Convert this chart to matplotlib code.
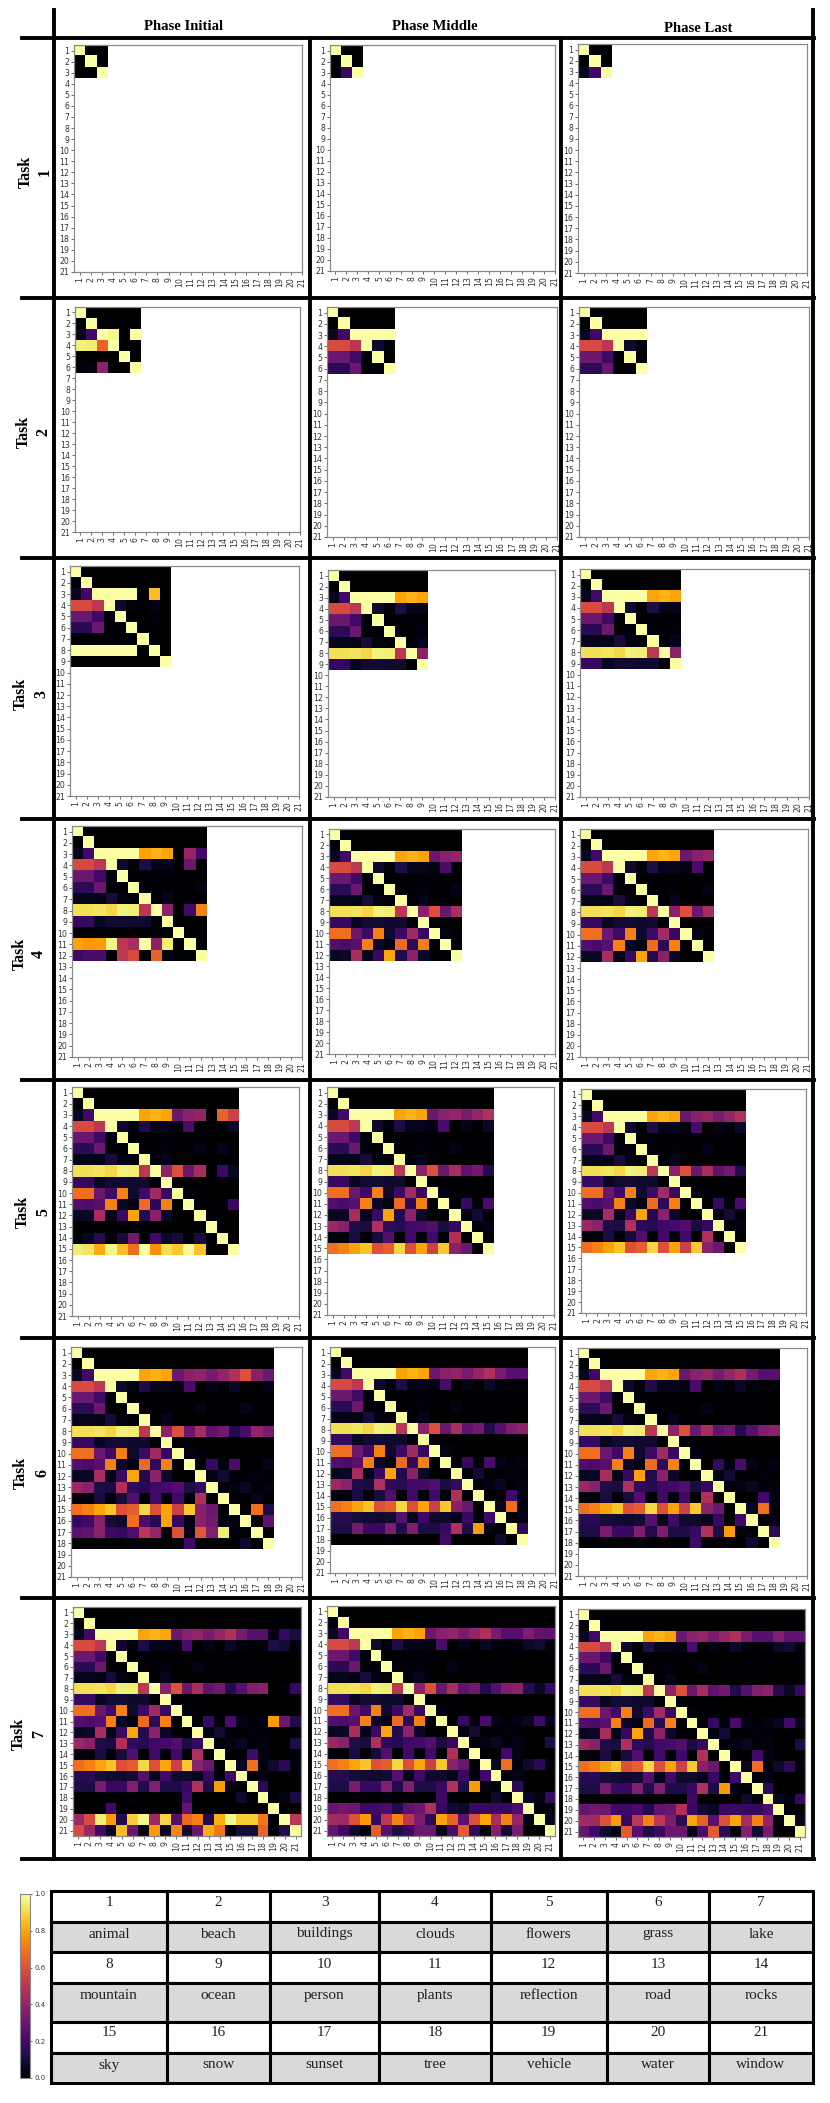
import numpy as np
import matplotlib
matplotlib.use("Agg")
import matplotlib.pyplot as plt
from matplotlib.patches import Rectangle

W, H = 830, 2103

phases = ["Phase Initial", "Phase Middle", "Phase Last"]
tasks = [1, 2, 3, 4, 5, 6, 7]
class_count = [3, 6, 9, 12, 15, 18, 21]
labels = ["animal", "beach", "buildings", "clouds", "flowers", "grass", "lake",
          "mountain", "ocean", "person", "plants", "reflection", "road", "rocks",
          "sky", "snow", "sunset", "tree", "vehicle", "water", "window"]

row_1 = [1] + [0] * 20
row_2 = [0, 1] + [0] * 19
row_3 = [.06, .2, 1, 1, 1, 1, .8, .83, .8, .3, .37, .4, .33, .4, .47, .33, .25, .25, .35, .27, .27]
row_4 = [.58, .58, .5, 1, .08, .02, .12, .05, .05, .03, .22, 0, .04, .01, .07, .02, .01, .02, .07, .09, .02]
row_5 = [.3, .3, .2, .02, 1, 0, .01, .01, .01, .01, 0, 0, 0, 0, 0, 0, 0, 0, 0, 0, .01]
row_6 = [.15, .15, .3, .01, .01, 1, .01, .01, .02, 0, 0, .04, 0, .01, 0, .01, .01, 0, 0, 0, 0]
row_7 = [.05, .05, .04, .1, .03, .01, 1, .01, .05, 0, 0, 0, 0, 0, 0, 0, 0, 0, 0, 0, 0]
row_8 = [.92, .92, .93, .9, .96, .95, .5, 1, .38, .6, .3, .45, .27, .32, .13, .25, .35, .38, .14, .07, .17]
row_9 = [.17, .17, .06, .09, .09, .08, .08, .01, 1, 0, 0, 0, 0, 0, 0, 0, 0, 0, 0, 0, 0]
row_10 = [.68, .68, .3, .2, .72, .08, .19, .43, .18, 1, .03, .01, 0, 0, 0, 0, 0, 0, 0, 0, 0]
row_11 = [.24, .22, .25, .72, .07, .03, .67, .15, .72, 0, 1, 0, .17, .02, .22, .04, .01, .03, .06, .2, .05]
row_12 = [.06, .07, .45, .05, .18, .8, .13, .38, .07, 0, 0, 1, .03, .09, .01, .01, .02, .01, 0, 0, 0]
row_13 = [.42, .37, .12, .11, .47, .16, .14, .2, .21, .24, .11, .17, 1, .01, .03, .06, .01, .03, 0, 0, .12]
row_14 = [.02, .02, .11, .01, .1, .24, 0, .2, .02, .2, .01, .47, 0, 1, 0, 0, .2, .03, 0, 0, 0]
row_15 = [.68, .72, .8, .86, .6, .64, .9, .6, .8, .55, .87, .37, .3, 0, 1, .06, .68, .02, .08, .15, .02]
row_16 = [.14, .14, .1, .09, .08, .09, .25, .05, .2, .08, .08, .05, .18, .01, .2, 1, 0, .04, 0, 0, 0]
row_17 = [.12, .12, .33, .18, .18, .35, .13, .35, .12, .12, .18, .47, .12, .78, .03, .01, 1, .15, 0, 0, 0]
row_18 = [0, 0, 0, 0, 0, .02, 0, 0, 0, 0, .2, .01, 0, 0, 0, .08, 0, 1, .06, .03, .17]
row_19 = [.28, .32, .3, .2, .2, .22, .13, .27, .3, .47, .18, .09, .07, .18, .18, .18, .17, .23, 1, .01, .01]
row_20 = [.43, .43, .6, .78, .17, .5, .72, .5, .34, .15, .8, .65, .26, .6, .8, .45, .72, .4, .03, 1, .05]
row_21 = [.28, .2, .08, .03, .63, .25, .12, .18, .3, .3, .05, .22, .63, .15, .01, .36, .09, .33, 0, 0, 1]

base = np.array([row_1, row_2, row_3, row_4, row_5, row_6, row_7, row_8, row_9, row_10, row_11,
                 row_12, row_13, row_14, row_15, row_16, row_17, row_18, row_19, row_20, row_21], dtype=float)

# (row, first column, values), 1 based like the tick labels
changes = {
    (1, 0): [(3, 1, [0, 0])],
    (1, 1): [(3, 1, [.02, .17])],
    (2, 0): [(3, 1, [.06, .2, 1, .97, 0, 1]),
             (4, 1, [.96, .95, .65, 1, 0, 0]),
             (5, 1, [0, 0, 0, 0, 1, 0]),
             (6, 1, [.02, .03, .38, 0, 0, 1])],
    (3, 0): [(3, 7, [0, .85, 0]),
             (4, 7, [0, .03, 0]),
             (5, 7, [0, .02, 0]),
             (6, 7, [0, .01, 0]),
             (7, 1, [0, 0, 0, 0, 0, 0, 1, 0, 0]),
             (8, 1, [1, 1, 1, 1, 1, 1, 0, 1, 0]),
             (9, 1, [0, 0, 0, 0, 0, 0, 0, 0, 1])],
    (4, 0): [(3, 10, [0, .4, .2]),
             (4, 10, [0, .3, 0]),
             (6, 12, [.03]),
             (8, 10, [0, .2, .72]),
             (10, 1, [0, 0, 0, 0, 0, 0, 0, 0, 0, 1, 0, 0]),
             (11, 1, [.8, .77, .78, .97, .5, .45, 1, .38, .95, 0, 1, 0]),
             (12, 1, [.2, .22, .22, 0, .5, .58, 0, .65, .03, 0, 0, 1])],
    (5, 0): [(3, 13, [0, .65, .55]),
             (4, 13, [0, .01, .07]),
             (6, 13, [0, .05, 0]),
             (8, 13, [0, .18, .06]),
             (11, 13, [0, .01, .18]),
             (12, 13, [.01, 0, 0]),
             (13, 1, [0, 0, 0, 0, 0, 0, 0, 0, 0, 0, 0, 0, 1, 0, 0]),
             (14, 1, [.03, .06, .14, .02, .1, .32, 0, .2, .07, .1, .01, .11, 0, 1, 0]),
             (15, 1, [.95, .93, .82, .97, .85, .68, 1, .75, .92, .87, .99, .86, 0, 0, 1])],
    (6, 0): [(3, 16, [.6, .37, .3]),
             (4, 16, [0, 0, .04]),
             (6, 16, [.05]),
             (8, 16, [.22, .4, .33]),
             (11, 16, [0, 0, .05]),
             (14, 16, [0, .05, 0]),
             (15, 16, [0, .68, .12]),
             (16, 1, [.17, .2, .37, .1, .08, .68, .22, .14, .8, .17, .03, .38, .32, .03, .03, 1, 0, .27]),
             (17, 1, [.25, .27, .37, .2, .17, .23, .5, .4, .02, .6, .05, .62, .35, .95, .02, 0, 1, 0])],
    (7, 0): [(3, 19, [.03, .17, .11]),
             (4, 19, [.12, .09, .02]),
             (8, 19, [0, .02, .17]),
             (11, 19, [.78, .3, .12]),
             (18, 19, [0, .03, .11]),
             (19, 1, [0, 0, 0, .2, 0, 0, 0, 0, 0, 0, .28, 0, 0, 0, 0, 0, 0, 0, 1, 0, 0]),
             (20, 1, [.42, .58, .95, .78, .13, .88, .97, .42, .9, .25, .66, .72, .13, .82, .98, .88, .88, .7, 0, 1, .5]),
             (21, 1, [.58, .42, .2, .06, .85, .3, 0, .78, .06, .73, .08, .3, .82, .7, 0, .1, .1, .65, 0, .13, 1])],
}

# panel boxes in pixels: left, right, top, bottom
boxes = [
    [(74, 302, 45, 272), (330, 555, 45, 271), (578, 807, 44, 273)],
    [(75, 300, 307, 532), (327, 557, 307, 537), (579, 809, 307, 537)],
    [(70, 299, 566, 796), (328, 555, 570, 797), (580, 809, 569, 797)],
    [(72, 302, 826, 1057), (329, 555, 829, 1054), (580, 808, 829, 1057)],
    [(72, 299, 1087, 1316), (327, 554, 1087, 1315), (581, 806, 1089, 1313)],
    [(71, 302, 1347, 1577), (330, 555, 1347, 1573), (578, 807, 1348, 1576)],
    [(73, 301, 1607, 1836), (327, 555, 1606, 1836), (578, 805, 1609, 1837)],
]

vlines = [53.5, 310, 561, 813]
hlines = [37.5, 297.5, 558, 819, 1080, 1338, 1598, 1859]
header_pos = [(184, 26), (435, 26), (698, 28)]
task_pos = [(26, 45, 172), (24, 43, 432), (21, 41, 694), (19.5, 39, 954), (23, 43, 1212), (21, 42, 1473), (19, 39, 1734)]

table_x = [51.3, 166.7, 269.8, 379.4, 490.5, 606.9, 709, 813]
table_y = [1891, 1921.7, 1952, 1982.7, 2022.3, 2052.7, 2082.7]
text_y = [1903, 1934, 1965, 1995.5, 2033, 2065]

fig = plt.figure(figsize=(W / 100, H / 100), dpi=100)


def add_box(l, r, t, b):
    return fig.add_axes([l / W, 1 - b / H, (r - l) / W, (b - t) / H])


ticks = np.arange(21)
tick_text = [str(i + 1) for i in ticks]
im = None
for i, n in enumerate(class_count):
    for j in range(3):
        m = base[:n, :n].copy()
        for row, col, vals in changes.get((tasks[i], j), []):
            m[row - 1, col - 1:col - 1 + len(vals)] = vals
        ax = add_box(*boxes[i][j])
        im = ax.imshow(m, cmap="inferno", vmin=0, vmax=1, aspect="auto", interpolation="nearest")
        ax.set_xticks(ticks)
        ax.set_yticks(ticks)
        ax.set_xticklabels(tick_text, rotation=90)
        ax.set_yticklabels(tick_text)
        end = 20.5 if n == 21 else 20
        ax.set_xlim(-0.5, end)
        ax.set_ylim(end, -0.5)
        ax.tick_params(labelsize=5.6, length=2, width=0.5, pad=1.5, colors="#333333")
        for s in ax.spines.values():
            s.set_color("#8a8a8a")
            s.set_linewidth(0.9)

# colorbar
cax = add_box(20, 30, 1894, 2078)
cb = fig.colorbar(im, cax=cax)
cb.set_ticks([0, .2, .4, .6, .8, 1])
cb.ax.tick_params(labelsize=5, length=1.5, width=0.5, pad=1.5, colors="#333333")
cb.outline.set_edgecolor("#8a8a8a")
cb.outline.set_linewidth(0.8)

# grid lines, headers and the class table go on one overlay in pixel units
over = fig.add_axes([0, 0, 1, 1], zorder=5)
over.set_xlim(0, W)
over.set_ylim(H, 0)
over.axis("off")

over.plot([vlines[0]] * 2, [10, hlines[-1]], color="black", lw=2.8)
over.plot([vlines[3]] * 2, [10, hlines[-1]], color="black", lw=2.8)
for x in vlines[1:3]:
    over.plot([x, x], [hlines[0], hlines[-1]], color="black", lw=2.8)
for y in hlines:
    over.plot([22, vlines[3] + 1], [y, y], color="black", lw=2.8)

for name, (x, y) in zip(phases, header_pos):
    over.text(x, y, name, ha="center", va="center", family="Liberation Serif",
              fontweight="bold", fontsize=10.6)
for t, (x1, x2, y) in zip(tasks, task_pos):
    over.text(x1, y, "Task", rotation=90, ha="center", va="center", family="Liberation Serif",
              fontweight="bold", fontsize=11.5)
    over.text(x2, y, str(t), rotation=90, ha="center", va="center", family="Liberation Serif",
              fontweight="bold", fontsize=11.5)

for r in range(6):
    for c in range(7):
        face = "#d9d9d9" if r % 2 else "white"
        over.add_patch(Rectangle((table_x[c], table_y[r]), table_x[c + 1] - table_x[c],
                                 table_y[r + 1] - table_y[r], facecolor=face,
                                 edgecolor="black", lw=2.2))
        k = r // 2 * 7 + c
        txt = labels[k] if r % 2 else str(k + 1)
        over.text((table_x[c] + table_x[c + 1]) / 2, text_y[r], txt, ha="center", va="center",
                  family="Liberation Serif", fontsize=11, color="#222222")

fig.savefig("out.png", dpi=100)
